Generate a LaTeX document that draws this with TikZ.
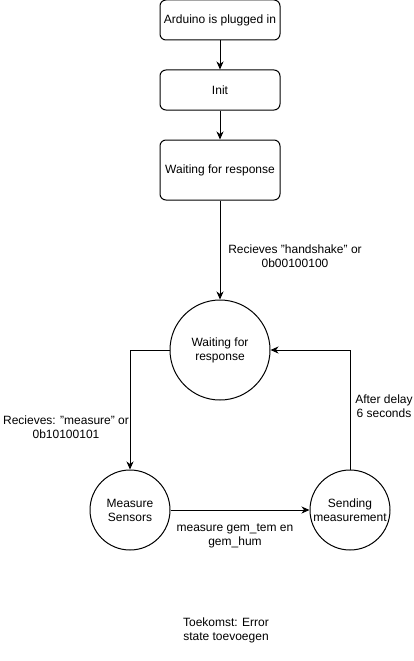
\documentclass[tikz,border=0pt]{standalone}
\usepackage{fontspec}
\setmainfont{Liberation Sans}
\usetikzlibrary{arrows.meta}
\begin{document}
\begin{tikzpicture}[x=1pt,y=-1pt,
  every node/.style={font=\fontsize{12}{14}\selectfont, align=center, inner sep=0pt},
  stbox/.style={draw, line width=1pt, rounded corners=6pt, minimum width=120pt},
  stcirc/.style={draw, line width=1pt, circle},
  arr/.style={line width=1pt, -{Stealth[length=8pt,width=7pt,inset=2.5pt]}},
  lbl/.style={}]
\useasboundingbox (0,0) rectangle (414,661);
\node[stbox, minimum height=40pt] (b1) at (220,20) {Arduino is plugged in};
\node[stbox, minimum height=40pt] (b2) at (220,90) {Init};
\node[stbox, minimum height=60pt] (b3) at (220,170) {Waiting for response};
\node[stcirc, minimum size=100pt] (c1) at (220,350) {Waiting for\\response};
\node[stcirc, minimum size=80pt] (c2) at (130,510) {Measure\\Sensors};
\node[stcirc, minimum size=80pt] (c3) at (350,510) {};
\node (c3t) at (350,510) {Sending\\measurement};
\draw[arr] (b1) -- (b2);
\draw[arr] (b2) -- (b3);
\draw[arr] (b3) -- (c1);
\draw[arr] (c1.west) -| (c2.north);
\draw[arr] (c2) -- (c3);
\draw[arr] (c3.north) |- (c1.east);
\node[lbl] (l1) at (295,256) {Recieves "handshake" or\\0b00100100};
\node[lbl] (l2) at (66,427) {Recieves: "measure" or\\0b10100101};
\node[lbl] (l3) at (235,536) {measure gem\_tem en\\gem\_hum};
\node[lbl] (l4) at (384,406) {After delay\\6 seconds};
\node[lbl] (l5) at (226,630) {Toekomst: Error\\state toevoegen};
\end{tikzpicture}
\end{document}
